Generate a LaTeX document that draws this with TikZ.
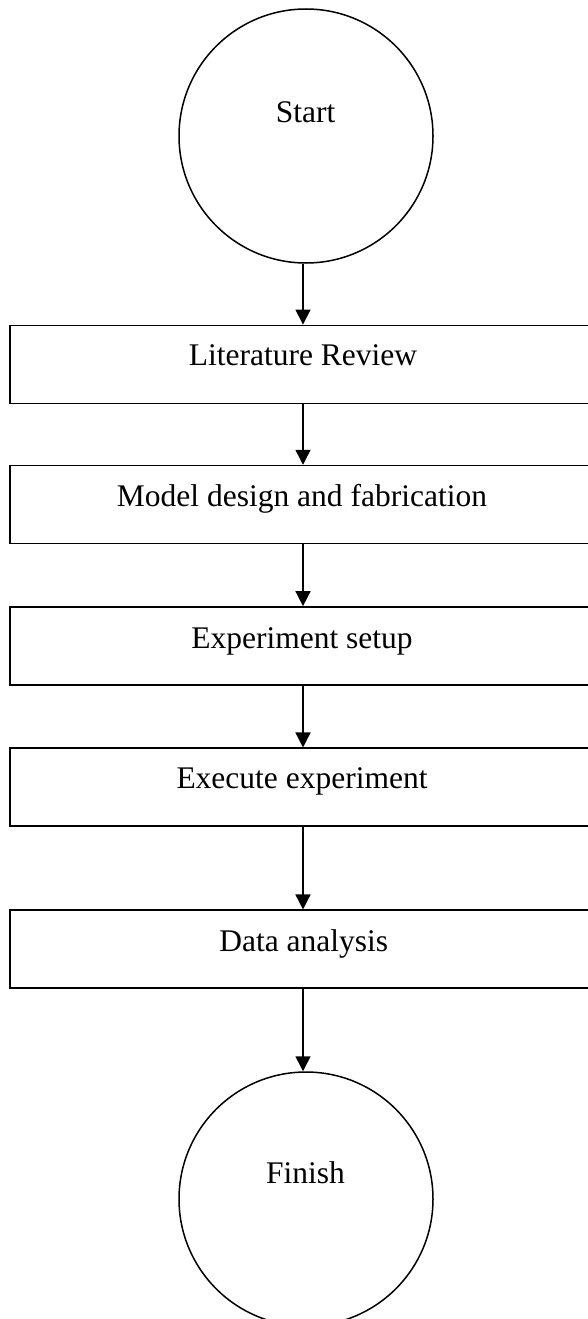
\documentclass[tikz,border=0pt]{standalone}
\usepackage{fontspec}
\setmainfont{Liberation Serif}
\usetikzlibrary{arrows.meta}
\begin{document}
\begin{tikzpicture}[x=1pt,y=-1pt,
  lw/.style={line width=1.5pt},
  term/.style={lw,draw,circle,minimum size=254pt,inner sep=0pt},
  stepbox/.style={lw,draw,rectangle,minimum width=586pt,minimum height=78pt,inner sep=0pt},
  lbl/.style={anchor=base,inner sep=0pt,font=\fontsize{31.5}{36}\selectfont},
  arr/.style={lw,-{Triangle[width=15pt,length=15pt]}}]
\useasboundingbox (0,0) rectangle (588,1319);
\node[term] (start) at (306,136) {};
\node[lbl] (startl) at (305.5,122.7) {Start};
\node[stepbox] (b1) at (303,364.3) {};
\node[lbl] (b1l) at (303,365.7) {Literature Review};
\node[stepbox] (b2) at (303,504.5) {};
\node[lbl] (b2l) at (302,506.7) {Model design and fabrication};
\node[stepbox] (b3) at (303,645.9) {};
\node[lbl] (b3l) at (302,648) {Experiment setup};
\node[stepbox] (b4) at (303,787.2) {};
\node[lbl] (b4l) at (302,788.3) {Execute experiment};
\node[stepbox] (b5) at (303,949.2) {};
\node[lbl] (b5l) at (303.7,951.7) {Data analysis};
\node[term] (finish) at (306,1199) {};
\node[lbl] (finishl) at (305.5,1183.3) {Finish};
\draw[arr] (b1.north |- start.south) -- (b1.north);
\draw[arr] (b1.south) -- (b2.north);
\draw[arr] (b2.south) -- (b3.north);
\draw[arr] (b3.south) -- (b4.north);
\draw[arr] (b4.south) -- (b5.north);
\draw[arr] (b5.south) -- (b5.south |- finish.north);
\end{tikzpicture}
\end{document}
